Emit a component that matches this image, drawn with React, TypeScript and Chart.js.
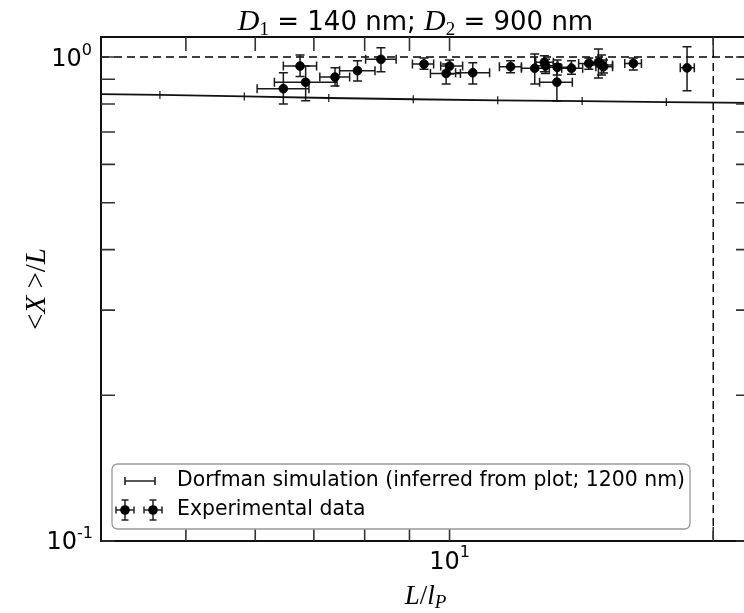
import React, { useEffect, useRef } from 'react';
import { Chart, registerables } from 'chart.js';

Chart.register(...registerables);

// ---- Data ----
const dorfmanX = [3.74, 4.67, 5.83, 7.28, 9.09, 11.35, 14.17, 17.68, 22.07];
const dorfmanY = [0.840, 0.835, 0.829, 0.823, 0.818, 0.814, 0.811, 0.807, 0.804];

const expX = [6.46, 6.75, 6.85, 7.40, 7.85, 8.35, 9.35, 10.0, 9.91, 10.63, 11.74, 12.51, 12.83, 12.87, 13.27, 13.26, 13.78, 14.42, 14.79, 14.91, 14.99, 16.21, 18.67];
const expY = [0.860, 0.958, 0.887, 0.909, 0.937, 0.989, 0.967, 0.958, 0.925, 0.928, 0.955, 0.948, 0.975, 0.959, 0.952, 0.887, 0.948, 0.970, 0.976, 0.963, 0.955, 0.970, 0.950];
const expXLow = [6.03, 6.46, 6.31, 7.11, 7.49, 8.02, 9.07, 9.77, 9.51, 10.16, 11.40, 12.08, 12.54, 12.55, 12.87, 12.67, 13.43, 14.04, 14.49, 14.49, 14.69, 15.85, 18.34];
const expXHigh = [6.91, 7.05, 7.44, 7.69, 8.22, 8.69, 9.59, 10.35, 10.29, 11.11, 12.08, 13.0, 13.14, 13.3, 13.74, 13.81, 14.19, 14.79, 15.10, 15.35, 15.35, 16.56, 19.03];
const expYLow = [0.800, 0.911, 0.812, 0.871, 0.892, 0.932, 0.943, 0.922, 0.880, 0.880, 0.928, 0.880, 0.932, 0.925, 0.918, 0.811, 0.921, 0.944, 0.905, 0.918, 0.927, 0.940, 0.852];
const expYHigh = [0.928, 1.010, 0.958, 0.950, 0.983, 1.045, 0.995, 0.986, 0.967, 0.973, 0.983, 1.014, 1.006, 0.990, 0.986, 0.969, 0.983, 0.995, 1.039, 1.010, 0.986, 0.995, 1.050];

const xMin = 4;
const xMax = 22.03;
const yMin = 0.1;
const yMax = 1.1;

const xTicks = [5, 6, 7, 8, 9, 10, 20];
const yTicks = [0.1, 0.2, 0.3, 0.4, 0.5, 0.6, 0.7, 0.8, 0.9, 1.0];
const refY = 1.0;
const refX = 20;

const titleParts = ['D', '1', ' = 140 nm; ', 'D', '2', ' = 900 nm'];
const legendLabels = ['Dorfman simulation (inferred from plot; 1200 nm)', 'Experimental data'];

const W = 760;
const H = 613;

type Seg = { t: string; f: string; dy?: number };

function drawRun(ctx: CanvasRenderingContext2D, segs: Seg[], x: number, y: number, align: 'left' | 'center' | 'right') {
  let total = 0;
  const widths = segs.map((s) => {
    ctx.font = s.f;
    const w = ctx.measureText(s.t).width;
    total += w;
    return w;
  });
  let cx = align === 'left' ? x : align === 'center' ? x - total / 2 : x - total;
  ctx.textAlign = 'left';
  ctx.textBaseline = 'alphabetic';
  segs.forEach((s, i) => {
    ctx.font = s.f;
    ctx.fillText(s.t, cx, y + (s.dy || 0));
    cx += widths[i];
  });
}

function errBar(ctx: CanvasRenderingContext2D, cx: number, cy: number, x0: number, x1: number, y0: number, y1: number, cap: number) {
  ctx.beginPath();
  ctx.moveTo(x0, cy); ctx.lineTo(x1, cy);
  ctx.moveTo(x0, cy - cap); ctx.lineTo(x0, cy + cap);
  ctx.moveTo(x1, cy - cap); ctx.lineTo(x1, cy + cap);
  ctx.moveTo(cx, y0); ctx.lineTo(cx, y1);
  ctx.moveTo(cx - cap, y0); ctx.lineTo(cx + cap, y0);
  ctx.moveTo(cx - cap, y1); ctx.lineTo(cx + cap, y1);
  ctx.stroke();
}

const decorPlugin = {
  id: 'decor',
  beforeDatasetsDraw(chart: any) {
    const { ctx, chartArea: a, scales } = chart;
    const xs = scales.x, ys = scales.y;
    ctx.save();
    ctx.beginPath();
    ctx.rect(a.left, a.top, a.right - a.left, a.bottom - a.top);
    ctx.clip();
    // reference dashed lines
    ctx.strokeStyle = '#000';
    ctx.lineWidth = 1.4;
    ctx.setLineDash([8, 5]);
    const py = ys.getPixelForValue(refY);
    ctx.beginPath(); ctx.moveTo(a.left, py); ctx.lineTo(a.right, py); ctx.stroke();
    const px = xs.getPixelForValue(refX);
    ctx.beginPath(); ctx.moveTo(px, a.top); ctx.lineTo(px, a.bottom); ctx.stroke();
    ctx.setLineDash([]);
    // error bars
    ctx.strokeStyle = '#1a1a1a';
    ctx.lineWidth = 1.5;
    for (let i = 0; i < expX.length; i++) {
      errBar(
        ctx,
        xs.getPixelForValue(expX[i]),
        ys.getPixelForValue(expY[i]),
        xs.getPixelForValue(expXLow[i]),
        xs.getPixelForValue(expXHigh[i]),
        ys.getPixelForValue(expYLow[i]),
        ys.getPixelForValue(expYHigh[i]),
        4.5
      );
    }
    ctx.restore();
  },
  afterDatasetsDraw(chart: any) {
    const { ctx, chartArea: a, scales } = chart;
    const xs = scales.x, ys = scales.y;
    ctx.save();
    // frame
    ctx.strokeStyle = '#111';
    ctx.lineWidth = 2;
    ctx.strokeRect(a.left, a.top, a.right - a.left, a.bottom - a.top);
    // inward ticks
    ctx.strokeStyle = '#333';
    ctx.lineWidth = 1.6;
    const tl = 14;
    ctx.beginPath();
    xTicks.forEach((v) => {
      const p = xs.getPixelForValue(v);
      ctx.moveTo(p, a.bottom); ctx.lineTo(p, a.bottom - tl);
      ctx.moveTo(p, a.top); ctx.lineTo(p, a.top + tl);
    });
    yTicks.forEach((v) => {
      const p = ys.getPixelForValue(v);
      ctx.moveTo(a.left, p); ctx.lineTo(a.left + tl, p);
      ctx.moveTo(a.right, p); ctx.lineTo(a.right - tl, p);
    });
    ctx.stroke();

    // tick labels
    ctx.fillStyle = '#000';
    const big = "24px 'DejaVu Sans'";
    const sup = "16px 'DejaVu Sans'";
    const y0 = ys.getPixelForValue(1);
    drawRun(ctx, [{ t: '10', f: big, dy: 9 }, { t: '0', f: sup, dy: -2 }], a.left - 9, y0, 'right');
    const y1 = ys.getPixelForValue(0.1);
    drawRun(ctx, [{ t: '10', f: big, dy: 8 }, { t: '-1', f: sup, dy: -3 }], a.left - 8, y1, 'right');
    const x10 = xs.getPixelForValue(10);
    drawRun(ctx, [{ t: '10', f: big, dy: 28 }, { t: '1', f: sup, dy: 16 }], x10, a.bottom, 'center');

    // axis titles
    const mi = "italic 27px 'Liberation Serif'";
    const mr = "27px 'Liberation Serif'";
    const ms = "italic 19px 'Liberation Serif'";
    const cx = (a.left + a.right) / 2;
    drawRun(ctx, [{ t: 'L', f: mi }, { t: '/', f: mr }, { t: 'l', f: mi }, { t: 'P', f: ms, dy: 4 }], cx, 604, 'center');
    const yi = "italic 29px 'Liberation Serif'";
    const yr = "29px 'Liberation Serif'";
    ctx.save();
    ctx.translate(37, (a.top + a.bottom) / 2);
    ctx.rotate(-Math.PI / 2);
    drawRun(ctx, [{ t: '<', f: yr }, { t: 'X', f: yi }, { t: ' >', f: yr }, { t: '/', f: yr }, { t: 'L', f: yi }], 0, 8, 'center');
    ctx.restore();

    // title
    const tf = "26px 'DejaVu Sans'";
    const tD = "italic 30px 'Liberation Serif'";
    const tS = "19px 'Liberation Serif'";
    drawRun(ctx, [
      { t: titleParts[0], f: tD },
      { t: titleParts[1], f: tS, dy: 5 },
      { t: titleParts[2], f: tf },
      { t: titleParts[3], f: tD },
      { t: titleParts[4], f: tS, dy: 5 },
      { t: titleParts[5], f: tf },
    ], cx - 10, 30, 'center');

    // legend
    const lx = 112, ly = 464, lw = 578, lh = 65, r = 6;
    ctx.beginPath();
    ctx.moveTo(lx + r, ly);
    ctx.lineTo(lx + lw - r, ly); ctx.quadraticCurveTo(lx + lw, ly, lx + lw, ly + r);
    ctx.lineTo(lx + lw, ly + lh - r); ctx.quadraticCurveTo(lx + lw, ly + lh, lx + lw - r, ly + lh);
    ctx.lineTo(lx + r, ly + lh); ctx.quadraticCurveTo(lx, ly + lh, lx, ly + lh - r);
    ctx.lineTo(lx, ly + r); ctx.quadraticCurveTo(lx, ly, lx + r, ly);
    ctx.closePath();
    ctx.fillStyle = '#fff';
    ctx.fill();
    ctx.strokeStyle = '#999';
    ctx.lineWidth = 1.3;
    ctx.stroke();

    // legend sample 1: line with tick markers
    ctx.strokeStyle = '#222';
    ctx.lineWidth = 1.6;
    ctx.beginPath();
    ctx.moveTo(125, 481); ctx.lineTo(155, 481);
    ctx.moveTo(125, 477); ctx.lineTo(125, 485);
    ctx.moveTo(155, 477); ctx.lineTo(155, 485);
    ctx.stroke();
    // legend sample 2: two errorbar markers
    [125, 153].forEach((mx) => {
      ctx.strokeStyle = '#222';
      ctx.lineWidth = 1.5;
      errBar(ctx, mx, 510, mx - 9, mx + 9, 500, 520, 3.5);
      ctx.fillStyle = '#000';
      ctx.beginPath();
      ctx.arc(mx, 510, 4.8, 0, Math.PI * 2);
      ctx.fill();
    });
    ctx.fillStyle = '#000';
    ctx.font = "20.4px 'DejaVu Sans'";
    ctx.textAlign = 'left';
    ctx.textBaseline = 'middle';
    ctx.fillText(legendLabels[0], 177, 481);
    ctx.fillText(legendLabels[1], 177, 510);
    ctx.restore();
  },
};

export default function App() {
  const ref = useRef<HTMLCanvasElement | null>(null);
  useEffect(() => {
    if (!ref.current) return;
    const chart = new Chart(ref.current, {
      type: 'scatter',
      data: {
        datasets: [
          {
            label: legendLabels[0],
            data: dorfmanX.map((x, i) => ({ x, y: dorfmanY[i] })),
            showLine: true,
            borderColor: '#111',
            borderWidth: 1.8,
            pointStyle: 'line',
            rotation: 90,
            pointRadius: 4,
            pointBorderWidth: 1.2,
            pointBorderColor: '#111',
            tension: 0,
          } as any,
          {
            label: legendLabels[1],
            data: expX.map((x, i) => ({ x, y: expY[i] })),
            pointStyle: 'circle',
            pointRadius: 4.4,
            pointBorderWidth: 0.8,
            pointBackgroundColor: '#000',
            pointBorderColor: '#000',
          } as any,
        ],
      },
      options: {
        responsive: false,
        maintainAspectRatio: false,
        devicePixelRatio: 1,
        animation: false,
        events: [],
        layout: { padding: { left: 101, right: W - 750, top: 37, bottom: H - 541 } },
        scales: {
          x: { type: 'logarithmic', min: xMin, max: xMax, bounds: 'data', display: false },
          y: { type: 'logarithmic', min: yMin, max: yMax, bounds: 'data', display: false },
        },
        plugins: {
          legend: { display: false },
          tooltip: { enabled: false },
          title: { display: false },
        },
      } as any,
      plugins: [decorPlugin],
    });
    return () => chart.destroy();
  }, []);

  return (
    <div style={{ position: 'absolute', left: 0, top: 0, width: 744, height: 613, overflow: 'hidden', background: '#fff' }}>
      <canvas ref={ref} width={W} height={H} style={{ display: 'block', width: W, height: H }} />
    </div>
  );
}
